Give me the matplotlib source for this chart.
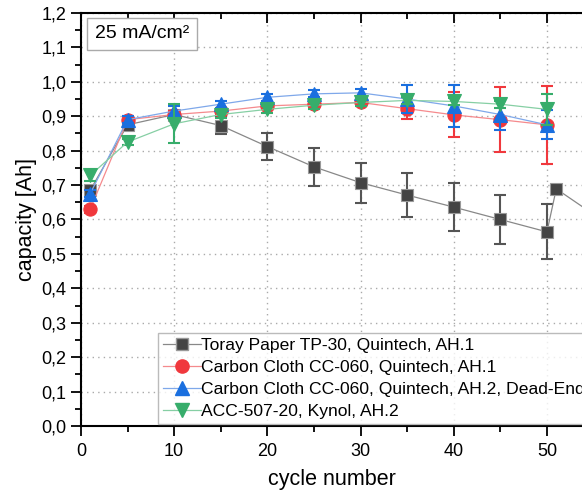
import numpy as np
import matplotlib
matplotlib.use("Agg")
import matplotlib.pyplot as plt
from matplotlib.ticker import MultipleLocator, FuncFormatter

plt.rcParams['font.family'] = ['Liberation Sans', 'DejaVu Sans']

# cycle numbers
cycles = [1, 5, 10, 15, 20, 25, 30, 35, 40, 45, 50]
cycles_tp = [1, 5, 10, 15, 20, 25, 30, 35, 40, 45, 50, 51, 55]

# Toray Paper TP-30, Quintech, AH.1
tp30 = [0.685, 0.875, 0.905, 0.873, 0.812, 0.753, 0.707, 0.671, 0.636, 0.600, 0.564, 0.689, 0.615]
tp30_err = [0.01, 0.01, 0.01, 0.025, 0.04, 0.055, 0.058, 0.065, 0.07, 0.072, 0.08, 0, 0]
# Carbon Cloth CC-060, Quintech, AH.1
cc060 = [0.630, 0.890, 0.905, 0.915, 0.930, 0.935, 0.940, 0.922, 0.904, 0.890, 0.875]
cc060_err = [0.01, 0.01, 0.01, 0.01, 0.01, 0.01, 0.01, 0.03, 0.065, 0.095, 0.113]
# Carbon Cloth CC-060, Quintech, AH.2, Dead-End
cc060_de = [0.675, 0.890, 0.915, 0.935, 0.955, 0.965, 0.968, 0.950, 0.930, 0.905, 0.875]
cc060_de_err = [0.01, 0.01, 0.015, 0.01, 0.01, 0.01, 0.01, 0.04, 0.06, 0.045, 0.042]
# ACC-507-20, Kynol, AH.2
acc507 = [0.728, 0.825, 0.878, 0.905, 0.920, 0.932, 0.940, 0.946, 0.943, 0.935, 0.920]
acc507_err = [0.015, 0.01, 0.057, 0.01, 0.01, 0.01, 0.01, 0.01, 0.01, 0.01, 0.045]

fig = plt.figure(figsize=(5.82, 4.94), dpi=100)
ax = fig.add_axes([0.139, 0.1377, 0.861, 0.836])

series = [
    (cycles_tp, tp30, tp30_err, "Toray Paper TP-30, Quintech, AH.1", "s", "#444444", "#888888", "#555555", 9),
    (cycles, cc060, cc060_err, "Carbon Cloth CC-060, Quintech, AH.1", "o", "#f0383d", "#f58a8d", "#f0383d", 9.5),
    (cycles, cc060_de, cc060_de_err, "Carbon Cloth CC-060, Quintech, AH.2, Dead-End", "^", "#1a6fdf", "#7fa8ea", "#1a6fdf", 10.5),
    (cycles, acc507, acc507_err, "ACC-507-20, Kynol, AH.2", "v", "#37ad6b", "#86cfa4", "#37ad6b", 10.5),
]

for x, y, e, lab, m, c, lc, ec, ms in series:
    ax.errorbar(x, y, yerr=e, fmt="none", ecolor=ec, elinewidth=1.5, capsize=4.5, capthick=1.5)
    ax.plot(x, y, color=lc, lw=0.9)
    ax.plot(x, y, linestyle="none", marker=m, markersize=ms, color=c,
            markeredgecolor="#999999" if m == "s" else c, markeredgewidth=0.8)
    # legend handle
    ax.plot([], [], color=lc, lw=0.9, marker=m, markersize=ms, markerfacecolor=c,
            markeredgecolor="#999999" if m == "s" else c, label=lab)

ax.set_xlim(0, 53.76)
ax.set_ylim(0, 1.2)
ax.xaxis.set_major_locator(MultipleLocator(10))
ax.xaxis.set_minor_locator(MultipleLocator(5))
ax.yaxis.set_major_locator(MultipleLocator(0.1))
ax.yaxis.set_minor_locator(MultipleLocator(0.05))
ax.yaxis.set_major_formatter(FuncFormatter(lambda v, p: f"{v:.1f}".replace(".", ",")))

ax.grid(True, which="major", linestyle=(0, (1, 3)), color="#aaaaaa", linewidth=1)
ax.spines["right"].set_visible(False)
for s in ["left", "bottom", "top"]:
    ax.spines[s].set_linewidth(1.5)
ax.tick_params(which="both", direction="out", labelsize=13, width=1.3)
ax.tick_params(which="major", length=7)
ax.tick_params(which="minor", length=4)
ax.tick_params(which="both", top=True)
ax.tick_params(axis="x", which="major", pad=5)

ax.set_xlabel("cycle number", fontsize=15.5, labelpad=7)
ax.set_ylabel("capacity [Ah]", fontsize=15.5, labelpad=3)

ax.text(0.028, 0.97, "25 mA/cm²", transform=ax.transAxes, fontsize=14, va="top", ha="left",
        bbox=dict(boxstyle="square,pad=0.4", facecolor="white", edgecolor="#aaaaaa"))

leg = ax.legend(loc="lower left", bbox_to_anchor=(0.154, 0.005), fontsize=12.6, frameon=True,
                fancybox=False, edgecolor="#aaaaaa", borderaxespad=0, handlelength=2.2,
                handletextpad=0.0, labelspacing=0.38, borderpad=0.28)
leg.get_frame().set_linewidth(1)

# top ticks inward
for t in ax.xaxis.get_major_ticks() + ax.xaxis.get_minor_ticks():
    t.tick2line.set_marker(3)

fig.savefig("out.png", dpi=100)
